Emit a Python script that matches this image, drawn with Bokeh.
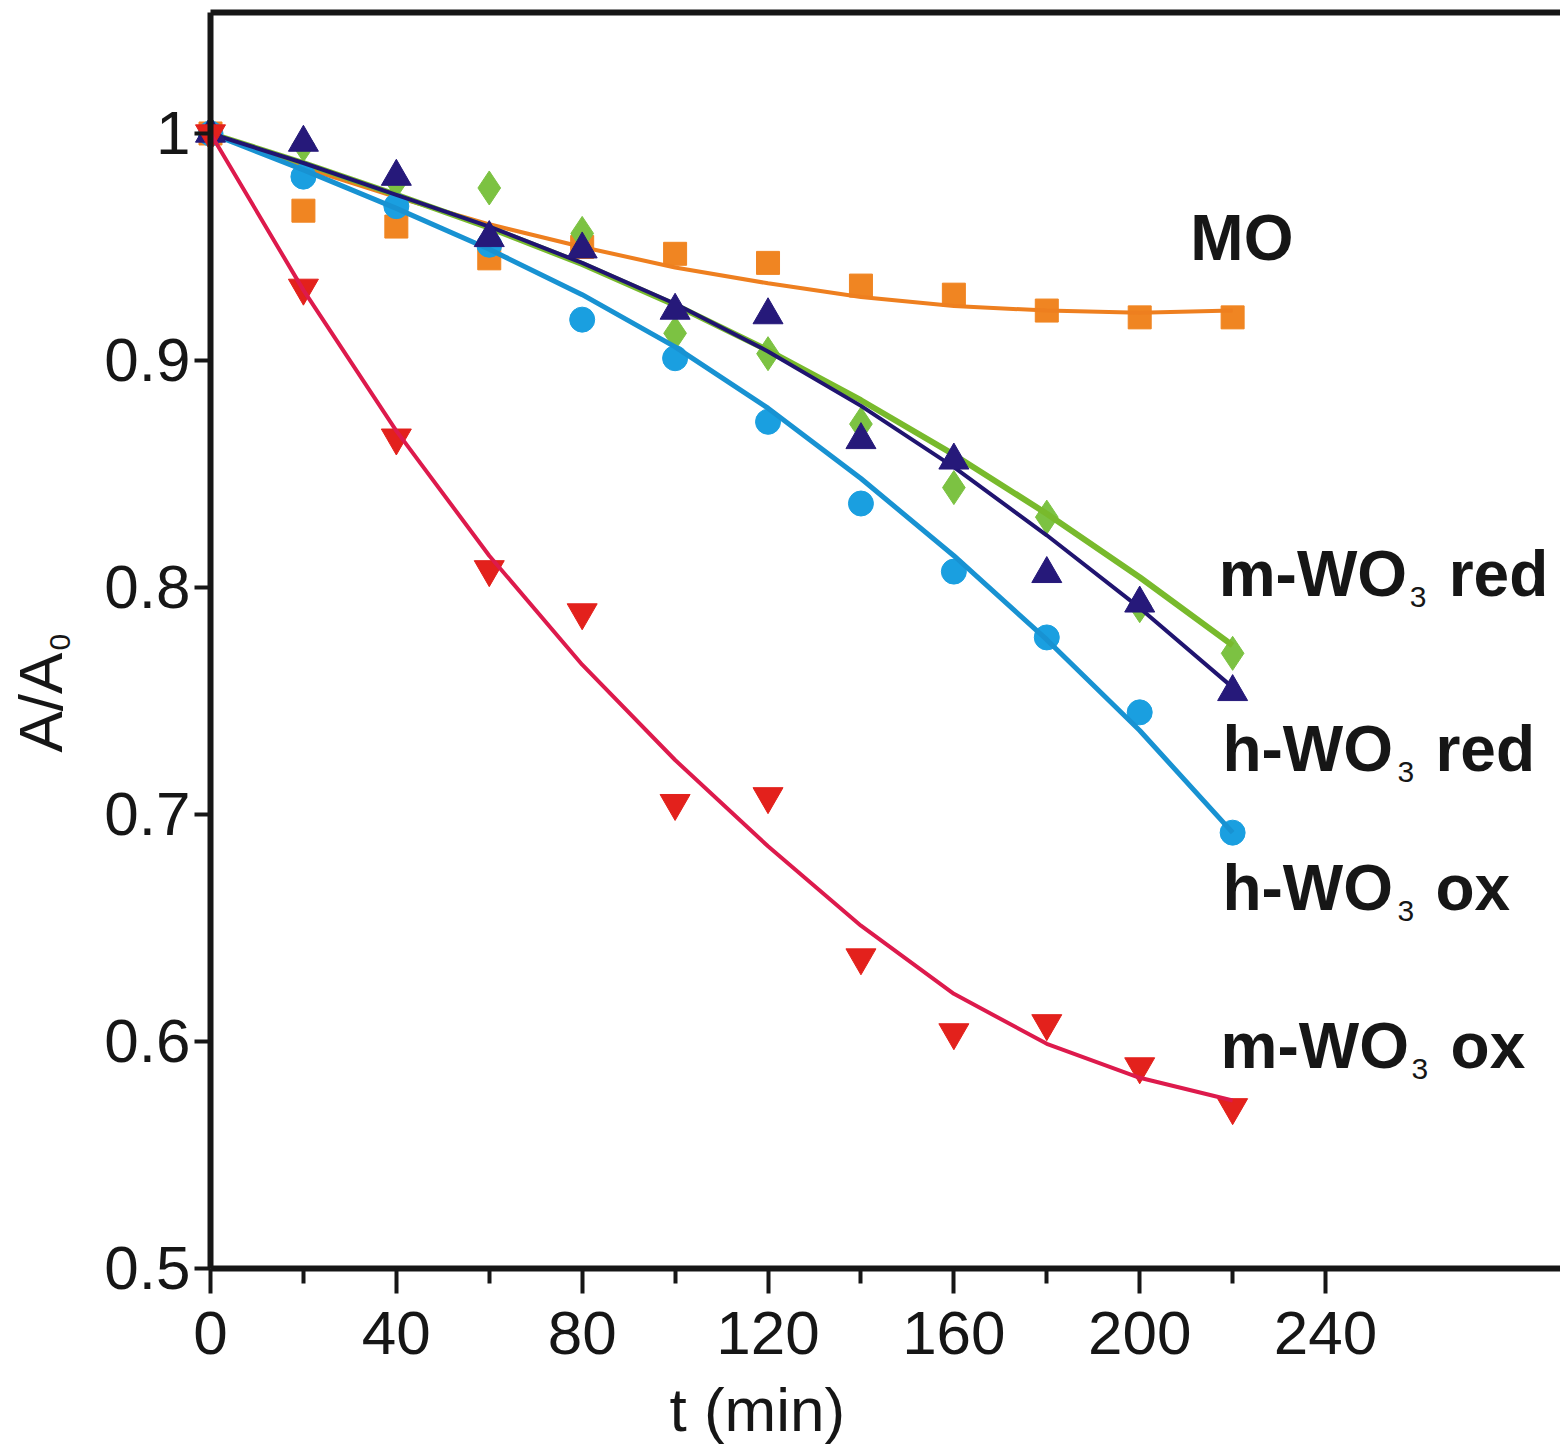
import math
from bokeh.plotting import figure
from bokeh.models import Range1d, FixedTicker, LinearAxis, Label
from bokeh.embed import file_html
from bokeh.resources import INLINE

# ---------------- data ----------------
t_min = [0, 20, 40, 60, 80, 100, 120, 140, 160, 180, 200, 220]

mo_pts = [1.000, 0.966, 0.959, 0.945, 0.950, 0.947, 0.943, 0.933, 0.929, 0.922, 0.919, 0.919]
mo_fit = [1.000, 0.985, 0.972, 0.960, 0.950, 0.941, 0.934, 0.928, 0.924, 0.922, 0.921, 0.922]

m_red_pts = [1.000, 0.995, 0.979, 0.976, 0.956, 0.912, 0.903, 0.872, 0.844, 0.831, 0.792, 0.771]
m_red_fit = [1.000, 0.987, 0.973, 0.9585, 0.9425, 0.9245, 0.9045, 0.8825, 0.8585, 0.8325, 0.8045, 0.7745]

h_red_pts = [1.000, 0.996, 0.981, 0.954, 0.949, 0.922, 0.920, 0.865, 0.856, 0.806, 0.793, 0.754]
h_red_fit = [1.000, 0.987, 0.973, 0.959, 0.943, 0.925, 0.904, 0.880, 0.853, 0.823, 0.791, 0.756]

h_ox_pts = [1.000, 0.981, 0.968, 0.951, 0.918, 0.901, 0.873, 0.837, 0.807, 0.778, 0.745, 0.692]
h_ox_fit = [1.000, 0.984, 0.967, 0.949, 0.929, 0.906, 0.879, 0.848, 0.814, 0.777, 0.737, 0.692]

m_ox_pts = [1.000, 0.932, 0.866, 0.808, 0.789, 0.705, 0.708, 0.637, 0.604, 0.608, 0.589, 0.571]
m_ox_fit = [1.000, 0.931, 0.869, 0.814, 0.766, 0.724, 0.686, 0.651, 0.621, 0.599, 0.584, 0.574]

x_ticks = [0, 40, 80, 120, 160, 200, 240]
x_minor_ticks = [20, 60, 100, 140, 180, 220]
y_ticks = [0.5, 0.6, 0.7, 0.8, 0.9, 1]
y_tick_labels = ["0.5", "0.6", "0.7", "0.8", "0.9", "1"]

FONT = "Liberation Sans"
INK = "#161616"

# the whole canvas is the frame; the axes sit at fixed data positions
X_LO, X_HI = -45.20, 290.57
Y_LO, Y_HI = 0.41982, 1.05859
Y_TOP = 1.0533

p = figure(width=1560, height=1450, output_backend="svg", toolbar_location=None,
           x_range=Range1d(X_LO, X_HI), y_range=Range1d(Y_LO, Y_HI),
           min_border=0, min_border_left=0, min_border_right=0,
           min_border_top=0, min_border_bottom=0)
p.grid.visible = False
p.outline_line_color = None
p.background_fill_color = "white"
p.border_fill_color = "white"

xa = p.xaxis[0]
xa.fixed_location = 0.5
xa.bounds = (0, X_HI)
xa.ticker = FixedTicker(ticks=x_ticks, minor_ticks=x_minor_ticks)
xa.axis_line_width = 6
xa.axis_line_color = INK
xa.major_tick_in = 0
xa.major_tick_out = 25
xa.minor_tick_in = 0
xa.minor_tick_out = 15
xa.major_tick_line_width = 4
xa.minor_tick_line_width = 4
xa.major_tick_line_color = INK
xa.minor_tick_line_color = INK
xa.major_label_text_font = FONT
xa.major_label_text_font_size = "62px"
xa.major_label_text_color = INK
xa.major_label_standoff = 19

ya = p.yaxis[0]
ya.fixed_location = 0
ya.bounds = (0.5, Y_TOP)
ya.ticker = FixedTicker(ticks=y_ticks)
ya.major_label_overrides = dict(zip(y_ticks, y_tick_labels))
ya.axis_line_width = 6
ya.axis_line_color = INK
ya.major_tick_in = 0
ya.major_tick_out = 16
ya.minor_tick_in = 0
ya.minor_tick_out = 0
ya.major_tick_line_width = 4
ya.major_tick_line_color = INK
ya.major_label_text_font = FONT
ya.major_label_text_font_size = "62px"
ya.major_label_text_color = INK
ya.major_label_standoff = 4

top = LinearAxis(ticker=FixedTicker(ticks=[]), fixed_location=Y_TOP, bounds=(0, X_HI),
                 major_tick_in=0, major_tick_out=0, minor_tick_in=0, minor_tick_out=0,
                 axis_line_width=6, axis_line_color=INK,
                 major_label_text_font_size="0px")
p.add_layout(top, "above")

# ---------------- series ----------------
p.scatter(t_min, mo_pts, marker="square", size=23, color="#F08522")
p.line(t_min, mo_fit, line_color="#EE7F1F", line_width=4)

p.scatter(t_min, m_red_pts, marker="diamond", size=34, color="#7CC242")
p.line(t_min, m_red_fit, line_color="#78BA2C", line_width=6)

p.scatter(t_min, h_ox_pts, marker="circle", size=25, color="#1A9FE0")
p.line(t_min, h_ox_fit, line_color="#1892D2", line_width=5)

p.line(t_min, h_red_fit, line_color="#201470", line_width=4)
p.scatter(t_min, h_red_pts, marker="triangle", size=30, color="#26197A")

p.scatter(t_min, m_ox_pts, marker="inverted_triangle", size=30, color="#E3211C")
p.line(t_min, m_ox_fit, line_color="#DD1A4C", line_width=4)

# ---------------- axis titles ----------------
p.add_layout(Label(x=117.7, y=0.4379, text="t (min)", text_align="center",
                   text_baseline="middle", text_font=FONT,
                   text_font_size="62px", text_color=INK))
p.add_layout(Label(x=-36.6, y=0.7273, text="A/A", angle=math.pi / 2,
                   text_align="left", text_baseline="middle", text_font=FONT,
                   text_font_size="62px", text_color=INK))
p.add_layout(Label(x=-32.5, y=0.7722, text="0", angle=math.pi / 2,
                   text_align="left", text_baseline="middle", text_font=FONT,
                   text_font_size="30px", text_color=INK))

# ---------------- series labels ----------------
def add_label(x, y, main, tail, sub_off, tail_off):
    common = dict(x=x, y=y, text_align="left", text_baseline="middle",
                  text_font=FONT, text_color=INK)
    p.add_layout(Label(text=main, text_font_size="64px", text_font_style="bold", **common))
    if tail is not None:
        p.add_layout(Label(text="3", text_font_size="30px", x_offset=sub_off,
                           y_offset=-23, **common))
        p.add_layout(Label(text=tail, text_font_size="64px", text_font_style="bold",
                           x_offset=tail_off, **common))

add_label(210.9, 0.9540, "MO", None, 0, 0)
add_label(217.0, 0.8060, "m-WO", "red", 191, 230)
add_label(217.8, 0.7289, "h-WO", "red", 175, 213)
add_label(217.8, 0.6676, "h-WO", "ox", 175, 213)
add_label(217.4, 0.5978, "m-WO", "ox", 191, 230)

open("out.html", "w").write(file_html(p, INLINE))
